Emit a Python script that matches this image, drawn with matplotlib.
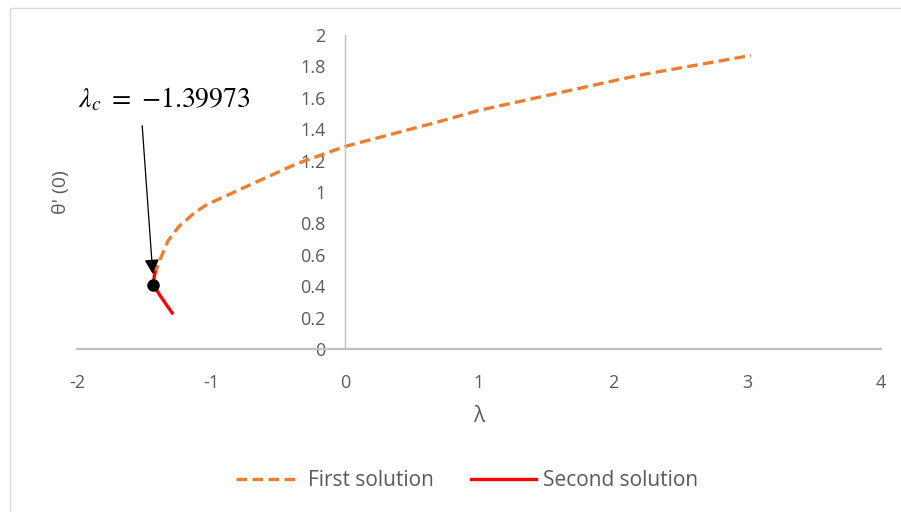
import numpy as np
import matplotlib
matplotlib.use('Agg')
import matplotlib.pyplot as plt
from matplotlib.patches import Rectangle

# Dados
lam_first = [-1.42, -1.41, -1.38, -1.32, -1.24, -1.12, -1.03, -0.71, -0.36, 0.0, 0.71, 1.0, 1.455, 2.2, 2.7, 3.03]
th_first = [0.47, 0.50, 0.57, 0.69, 0.78, 0.87, 0.92, 1.045, 1.18, 1.29, 1.45, 1.52, 1.605, 1.745, 1.82, 1.87]
lam_second = [-1.42, -1.43, -1.38, -1.29]
th_second = [0.49, 0.41, 0.34, 0.23]
lam_c = -1.43
th_c = 0.41
x_ticks = [-2, -1, 0, 1, 2, 3, 4]
y_ticks = [0, 0.2, 0.4, 0.6, 0.8, 1, 1.2, 1.4, 1.6, 1.8, 2]

plt.rcParams['font.family'] = ['Open Sans', 'DejaVu Sans']
gray = '#595959'

fig = plt.figure(figsize=(9.01, 5.12), dpi=100)
# borda da area do grafico (estilo Excel)
fig.patches.append(Rectangle((10/901, -0.1), 1.2, 1 - 8/512 + 0.1, transform=fig.transFigure,
                             fill=False, edgecolor='#d9d9d9', lw=1))
ax = fig.add_axes([77/901, 1 - 349/512, 804/901, 314/512])

ax.plot(lam_first, th_first, color='#ED7D31', lw=2.4, dashes=(3.2, 1.6), label='First solution')
ax.plot(lam_second, th_second, color='#FF0000', lw=2.4, label='Second solution')
ax.plot([lam_c], [th_c], 'o', color='k', ms=8, zorder=5)

ax.set_xlim(-2, 4)
ax.set_ylim(0, 2)
ax.set_xticks(x_ticks)
ax.set_xticklabels([str(v) for v in x_ticks])
ax.set_yticks(y_ticks)
ax.set_yticklabels(['0', '0.2', '0.4', '0.6', '0.8', '1', '1.2', '1.4', '1.6', '1.8', '2'])

for s in ['top', 'right']:
    ax.spines[s].set_visible(False)
ax.spines['left'].set_position(('data', 0))
ax.spines['left'].set_color('#bfbfbf')
ax.spines['left'].set_linewidth(1)
ax.spines['bottom'].set_color('#bfbfbf')
ax.spines['bottom'].set_linewidth(1.6)
ax.tick_params(axis='both', length=0, labelsize=13, labelcolor=gray)
ax.tick_params(axis='x', pad=18)
ax.tick_params(axis='y', pad=14)

ax.set_xlabel('λ', fontsize=15, color=gray, labelpad=10)
ax.text(-2.12, 1.0, "θ' (0)", rotation=90, fontsize=14, color=gray, ha='center', va='center')

# anotacao do ponto critico
ax.text(-1.99, 1.586, r'$\lambda_c\ =\ {-}1.39973$', fontsize=20, math_fontfamily='stix',
        ha='left', va='center', color='k')
ax.annotate('', xy=(-1.433, 0.46), xytext=(-1.515, 1.44),
            arrowprops=dict(arrowstyle='-|>', color='k', lw=0.9, mutation_scale=22))

fig.legend(loc='center', bbox_to_anchor=(467/901, 1 - 481/512), ncol=2, frameon=False,
           fontsize=15, labelcolor=gray, handlelength=3.1, columnspacing=1.8, handletextpad=0.35)

fig.savefig('out.png', dpi=100)
